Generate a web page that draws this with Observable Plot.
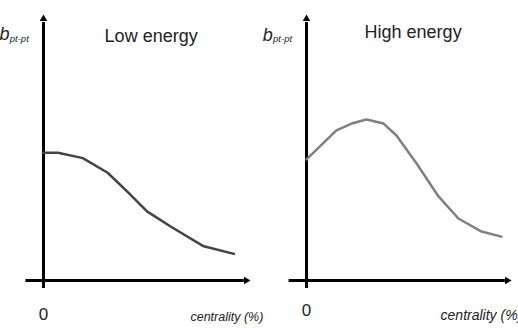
<!DOCTYPE html>
<html>
<head>
<meta charset="utf-8">
<script src="https://cdn.jsdelivr.net/npm/d3@7"></script>
<script src="https://cdn.jsdelivr.net/npm/@observablehq/plot@0.6"></script>
<style>
  html, body { margin: 0; padding: 0; background: #fff; }
  #chart { display: flex; width: 518px; height: 328px; overflow: hidden; }
  #chart svg { display: block; overflow: visible; }
</style>
</head>
<body>
<div id="chart"></div>
<script>
// Schematic b(pt-pt) vs centrality, in arbitrary units (0–100 on both axes)
const lowCentrality  = [0, 7, 19, 31, 41, 50, 62, 77, 92];
const lowB           = [48, 48, 46, 40.5, 33, 26, 20, 13, 10];
const highCentrality = [0, 14.6, 22, 29.3, 37.6, 43.9, 53.7, 64.4, 74.1, 85.4, 95.1];
const highB          = [45.5, 56.4, 59, 60.5, 59, 54.5, 44, 31.6, 23.3, 18.4, 16.5];

const panelTitles = ["Low energy", "High energy"];
const xTicks = [0];
const xTickLabels = ["0"];
const xLabel = "centrality (%)";
const yLabelMain = "b";
const yLabelSub = "pt-pt";

const font = "Liberation Sans, Arial, sans-serif";

function panel({title, xs, ys, color, marginLeft, marginRight, titleY, tickY, labelX, labelY, labelSize, bY, subY}) {
  const pts = xs.map((x, i) => ({x, y: ys[i]}));
  return Plot.plot({
    width: 259,
    height: 328,
    marginLeft, marginRight,
    marginTop: 14,
    marginBottom: 48,
    x: {domain: [0, 100], axis: null},
    y: {domain: [0, 100], axis: null},
    style: {fontFamily: font, background: "transparent", overflow: "visible"},
    marks: [
      // axes with arrowheads
      Plot.ruleX([0], {y1: -3, y2: 97, stroke: "#000", strokeWidth: 3}),
      Plot.ruleY([0], {x1: -8.5, x2: 97, stroke: "#000", strokeWidth: 3}),
      Plot.dot([{x: 0, y: 100}], {x: "x", y: "y", symbol: "triangle2", r: 3.6, fill: "#000", stroke: "none", dy: 4.3}),
      Plot.dot([{x: 100, y: 0}], {x: "x", y: "y", symbol: "triangle2", r: 3.6, fill: "#000", stroke: "none", rotate: 90, dx: -4.3}),
      // curve
      Plot.line(pts, {x: "x", y: "y", stroke: color, strokeWidth: 2.5, strokeLinejoin: "round", strokeLinecap: "round"}),
      // tick label at origin
      Plot.text(xTicks, {x: d => d, y: tickY, text: (d, i) => xTickLabels[i], fontSize: 17, lineAnchor: "bottom", fill: "#222"}),
      // axis labels
      Plot.text([xLabel], {x: labelX, y: labelY, text: d => d, textAnchor: "start", fontSize: labelSize, fontStyle: "italic", lineAnchor: "bottom", fill: "#222"}),
      Plot.text([yLabelMain], {x: -21.3, y: bY, text: d => d, textAnchor: "start", fontSize: 18, fontStyle: "italic", lineAnchor: "bottom", fill: "#222"}),
      Plot.text([yLabelSub], {x: -16.3, y: subY, text: d => d, textAnchor: "start", fontSize: 9.5, fontStyle: "italic", lineAnchor: "bottom", fill: "#222"}),
      // panel title
      Plot.text([title], {x: 52, y: titleY, text: d => d, fontSize: 18, lineAnchor: "bottom", fill: "#222"})
    ]
  });
}

const chart = document.getElementById("chart");
chart.append(panel({
  title: panelTitles[0], xs: lowCentrality, ys: lowB, color: "#444",
  marginLeft: 43, marginRight: 9,
  titleY: 89.8, tickY: -14.7, labelX: 71, labelY: -15.4, labelSize: 12.5, bY: 90.6, subY: 89.8
}));
chart.append(panel({
  title: panelTitles[1], xs: highCentrality, ys: highB, color: "#808080",
  marginLeft: 47, marginRight: 7,
  titleY: 91.2, tickY: -13.5, labelX: 65.4, labelY: -14.7, labelSize: 14, bY: 90.2, subY: 89.5
}));
</script>
</body>
</html>
